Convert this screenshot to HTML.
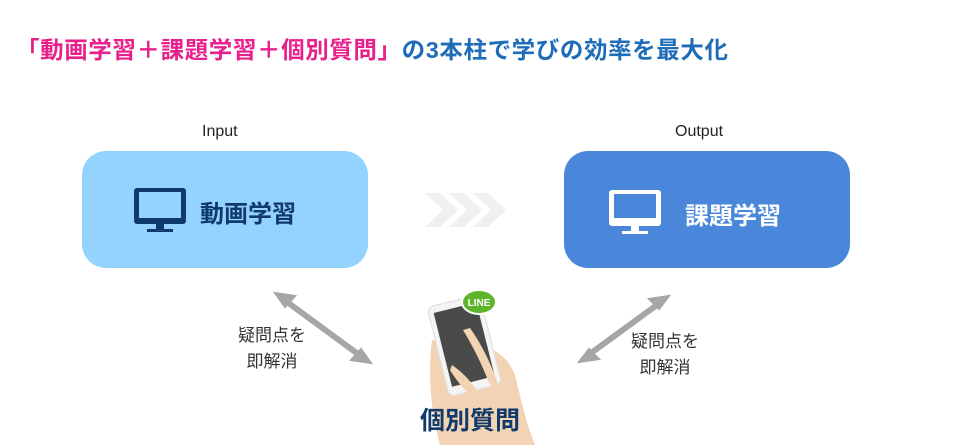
<!DOCTYPE html>
<html><head><meta charset="utf-8"><style>
body{margin:0;width:968px;height:445px;background:#fff;position:relative;overflow:hidden;font-family:"Liberation Sans","Noto Sans CJK JP",sans-serif}
.t{position:absolute;white-space:nowrap}
.box{position:absolute;top:151px;width:286px;height:117px;border-radius:24px}
</style></head><body>
<div class="t" style="left:16px;top:31px;font-size:23.5px;font-weight:bold;letter-spacing:0.6px"><span style="color:#e8208c">「動画学習＋課題学習＋個別質問」</span><span style="color:#1f6cb8">の3本柱で学びの効率を最大化</span></div>
<div class="t" style="left:202px;top:123px;font-size:16px;color:#222">Input</div>
<div class="t" style="left:675px;top:123px;font-size:16px;color:#222">Output</div>
<div class="box" style="left:82px;background:#93d3fd"></div>
<div class="box" style="left:564px;background:#4a86d9"></div>
<svg width="968" height="445" style="position:absolute;left:0;top:0">
<g fill="#0f3a6b"><rect x="134" y="188" width="52" height="36" rx="3"/><rect x="139" y="192" width="42" height="26" fill="#93d3fd"/><rect x="156" y="224" width="8" height="5"/><rect x="147" y="229" width="26" height="3"/></g>
<g fill="#fff"><rect x="609" y="190" width="52" height="36" rx="3"/><rect x="614" y="194" width="42" height="24" fill="#4a86d9"/><rect x="631" y="226" width="8" height="5"/><rect x="622" y="231" width="26" height="3"/></g>
<g fill="#f0f0f0"><polygon points="425,193 440,193 458,210 440,227 425,227 443,210"/><polygon points="449,193 464,193 482,210 464,227 449,227 467,210"/><polygon points="473,193 488,193 506,210 488,227 473,227 491,210"/></g>
<g stroke="#a6a6a6" stroke-width="6" fill="#a6a6a6">
<line x1="283" y1="299" x2="362" y2="357"/><polygon points="275,293 295,296 285,307" stroke-width="2"/><polygon points="371,363 351,360 361,349" stroke-width="2"/>
<line x1="587" y1="356" x2="661" y2="302"/><polygon points="579,362 589,349 599,359" stroke-width="2"/><polygon points="669,296 659,309 649,299" stroke-width="2"/>
</g>
<path d="M432,340 C428,370 430,410 440,445 L535,445 C525,420 520,395 515,375 C505,350 485,345 470,345 Z" fill="#f2d3b4"/>
<g transform="rotate(-14 462 340)"><rect x="436" y="300" width="54" height="92" rx="6" fill="#f4f4f4" stroke="#ddd"/><rect x="441" y="307" width="44" height="76" fill="#4a4a4a"/></g>
<path d="M463,330 C475,350 482,365 490,385 L500,390 C492,365 482,345 470,328 Z" fill="#f2d3b4"/>
<path d="M452,365 C462,372 470,380 478,392 L470,395 C460,385 455,378 450,370 Z" fill="#f2d3b4"/>
<ellipse cx="479" cy="302" rx="17" ry="12" fill="#5db52a" stroke="#fff" stroke-width="2"/>
<text x="479" y="306" font-size="10" font-weight="bold" fill="#fff" text-anchor="middle" font-family="Liberation Sans">LINE</text>
</svg>
<div class="t" style="left:200px;top:194px;font-size:24px;font-weight:bold;color:#0f3a6b">動画学習</div>
<div class="t" style="left:685px;top:196px;font-size:24px;font-weight:bold;color:#fff">課題学習</div>
<div class="t" style="left:238px;top:323px;font-size:17px;color:#333;line-height:26px;text-align:center">疑問点を<br>即解消</div>
<div class="t" style="left:631px;top:329px;font-size:17px;color:#333;line-height:26px;text-align:center">疑問点を<br>即解消</div>
<div class="t" style="left:420px;top:401px;font-size:25px;font-weight:bold;color:#0f3a6b">個別質問</div>
</body></html>
